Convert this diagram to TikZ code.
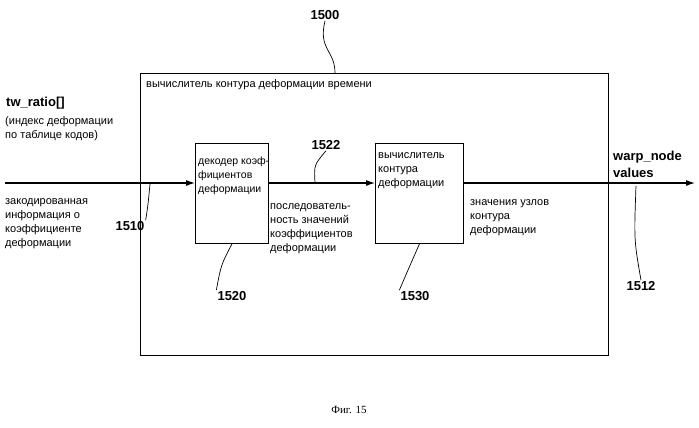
\documentclass[tikz,border=0pt]{standalone}
\usepackage{fontspec}
\setmainfont{Liberation Sans}
\newfontfamily\serifcap{Liberation Serif}
\usetikzlibrary{arrows.meta}
\begin{document}
\begin{tikzpicture}[x=1pt,y=-1pt,
  blk/.style={draw,line width=0.9pt},
  lbl/.style={font=\fontsize{11}{14}\selectfont,align=left,inner sep=0pt},
  num/.style={font=\fontsize{13}{14}\selectfont\bfseries,inner sep=1pt},
  arr/.style={-{Latex[length=9pt,width=6pt]},line width=1.1pt},
  lead/.style={line width=0.7pt}]
\useasboundingbox (0,0) rectangle (699,428);
\node[blk,minimum width=468pt,minimum height=282pt,anchor=north west] (outer) at (140,73) {};
\node[blk,minimum width=73pt,minimum height=100pt,anchor=north west] (b1) at (195,143) {};
\node[blk,minimum width=88pt,minimum height=100pt,anchor=north west] (b2) at (375,143) {};
\node[lbl,anchor=north west] (t0) at (146,79) {вычислитель контура деформации времени};
\node[lbl,font=\fontsize{10.5}{14}\selectfont,anchor=north west] (t1) at (198,157) {декодер коэф-\\фициентов\\деформации};
\node[lbl,anchor=north west] (t2) at (378,152) {вычислитель\\контура\\деформации};
\coordinate (in) at (5,183);
\coordinate (out) at (695,183);
\draw[arr] (in) -- (b1.west |- in);
\draw[arr] (b1.east |- in) -- (b2.west |- in);
\draw[arr] (b2.east |- in) -- (out);
\node[num,anchor=west] (twr) at (5,103) {tw\_ratio[]};
\node[lbl,anchor=north west] (tw2) at (5,116) {(индекс деформации\\по таблице кодов)};
\node[lbl,anchor=north west] (l1) at (5,198) {закодированная\\информация о\\коэффициенте\\деформации};
\node[lbl,anchor=north west] (l2) at (270,203) {последователь-\\ность значений\\коэффициентов\\деформации};
\node[lbl,anchor=north west] (l3) at (470,199) {значения узлов\\контура\\деформации};
\node[num,anchor=west] (wn) at (612,157) {warp\_node};
\node[num,anchor=west] (wv) at (612,173) {values};
\node[num] (n1500) at (325,15) {1500};
\node[num] (n1510) at (130,226) {1510};
\node[num] (n1520) at (232,296) {1520};
\node[num] (n1522) at (326,145) {1522};
\node[num] (n1530) at (415,296) {1530};
\node[num] (n1512) at (641,286) {1512};
\coordinate (c1500) at (335,73);
\draw[lead] (n1500.south) .. controls (318,50) and (335,50) .. (c1500);
\coordinate (c1510) at (150,184);
\draw[lead] (n1510.north east) .. controls (148,205) .. (c1510);
\draw[lead] (n1520.north west) .. controls (221,265) .. (b1.south);
\coordinate (c1522) at (315,183);
\draw[lead] (n1522.south) .. controls (314,165) .. (c1522);
\draw[lead] (n1530.north west) .. controls (408,270) .. (b2.south);
\coordinate (c1512) at (636,186);
\draw[lead] (n1512.north) .. controls (634,240) .. (c1512);
\node[font=\serifcap\fontsize{11}{12}\selectfont] (cap) at (349,410) {Фиг. 15};
\end{tikzpicture}
\end{document}
